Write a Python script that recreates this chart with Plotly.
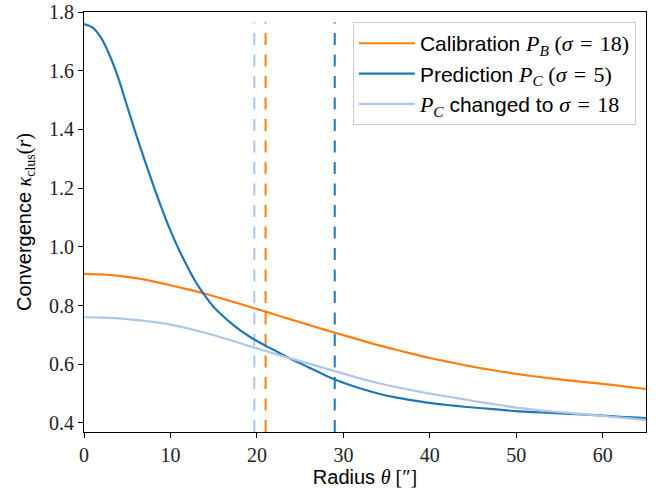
import plotly.graph_objects as go

# ---- data ----
theta_pred = list(range(0, 31)) + [32, 34, 36, 38, 40, 42, 44, 46, 48, 50, 52, 54, 56, 58, 60, 62, 64, 65]
kappa_pred = [1.759, 1.747, 1.711, 1.650, 1.572, 1.478, 1.385, 1.296, 1.211, 1.130,
              1.055, 0.989, 0.930, 0.876, 0.833, 0.795, 0.766, 0.740, 0.717, 0.697,
              0.679, 0.663, 0.648, 0.632, 0.617, 0.603, 0.589, 0.575, 0.561, 0.548,
              0.537, 0.517, 0.500, 0.487, 0.477, 0.468, 0.461, 0.455, 0.450, 0.445,
              0.440, 0.437, 0.434, 0.431, 0.428, 0.425, 0.421, 0.418, 0.416]

theta_cal = list(range(0, 65, 2)) + [65]
kappa_cal = [0.908, 0.906, 0.901, 0.893, 0.882, 0.869, 0.855, 0.840, 0.823, 0.806,
             0.788, 0.770, 0.752, 0.734, 0.716, 0.699, 0.682, 0.665, 0.650, 0.635,
             0.621, 0.609, 0.597, 0.586, 0.576, 0.567, 0.559, 0.552, 0.545, 0.539,
             0.533, 0.526, 0.519, 0.516]

theta_chg = list(range(0, 65, 2)) + [65]
kappa_chg = [0.760, 0.759, 0.756, 0.751, 0.744, 0.735, 0.722, 0.707, 0.690, 0.672,
             0.654, 0.636, 0.619, 0.602, 0.585, 0.568, 0.551, 0.536, 0.523, 0.511,
             0.500, 0.490, 0.480, 0.470, 0.461, 0.452, 0.445, 0.439, 0.434, 0.429,
             0.424, 0.418, 0.413, 0.410]

# vertical dashed marker radii
vline_theta = [19.7, 21.0, 29.0]
vline_colors = ["#aec7e8", "#ff7f0e", "#1f77b4"]
vline_top = 1.765

x_ticks = [0, 10, 20, 30, 40, 50, 60]
y_ticks = [0.4, 0.6, 0.8, 1.0, 1.2, 1.4, 1.6, 1.8]
x_range = [0, 65]
y_range = [0.369, 1.8]

SERIF = "'Liberation Serif', 'DejaVu Serif', serif"
SANS = "'Liberation Sans', Arial, sans-serif"
SP = "\u2004"  # wider math spacing around '='


def m(s, size=22):
    return f"<span style=\"font-family:{SERIF};font-size:{size}px\">{s}</span>"


names = [
    "Calibration " + m(f"<i>P</i><sub><i>B</i></sub> (<i>σ</i>{SP}={SP}18)"),
    "Prediction " + m(f"<i>P</i><sub><i>C</i></sub> (<i>σ</i>{SP}={SP}5)"),
    m("<i>P</i><sub><i>C</i></sub>") + " changed to " + m(f"<i>σ</i>{SP}={SP}18"),
]

fig = go.Figure()
series = [(theta_cal, kappa_cal, "#ff7f0e"),
          (theta_pred, kappa_pred, "#1f77b4"),
          (theta_chg, kappa_chg, "#aec7e8")]
for i, (xs, ys, c) in enumerate(series):
    fig.add_trace(go.Scatter(x=xs, y=ys, mode="lines", name=names[i],
                             line=dict(color=c, width=2.2, shape="spline", smoothing=1.0),
                             legendgroup=f"g{i}"))

for xv, c in zip(vline_theta, vline_colors):
    fig.add_shape(type="line", xref="x", yref="y", x0=xv, x1=xv,
                  y0=y_range[0], y1=vline_top,
                  line=dict(color=c, width=2, dash="12px,9.5px"), layer="below")

fig.update_layout(
    width=665, height=493,
    margin=dict(l=84, r=19, t=12, b=61),
    plot_bgcolor="white", paper_bgcolor="white",
    showlegend=True,
    legend=dict(x=0.982, y=0.976, xanchor="right", yanchor="top",
                bgcolor="rgba(255,255,255,0.8)", bordercolor="#cccccc", borderwidth=1,
                font=dict(family=SANS, size=21, color="black"),
                tracegroupgap=0, itemwidth=56),
    xaxis=dict(range=x_range, tickvals=x_ticks, ticktext=[str(v) for v in x_ticks],
               automargin=False,
               showgrid=False, zeroline=False, showline=True, linecolor="black", linewidth=1,
               mirror=True, ticks="outside", ticklen=5, tickwidth=1, tickcolor="black",
               tickfont=dict(family=SERIF, size=20, color="#222"),
               title=dict(text="Radius " + m("<i>θ</i> [″]", 20),
                          font=dict(family=SANS, size=20, color="black"), standoff=4)),
    yaxis=dict(range=y_range, tickvals=y_ticks, ticktext=[f"{v:.1f}" for v in y_ticks],
               automargin=False,
               showgrid=False, zeroline=False, showline=True, linecolor="black", linewidth=1,
               mirror=True, ticks="outside", ticklen=5, tickwidth=1, tickcolor="black",
               tickfont=dict(family=SERIF, size=20, color="#222"),
               title=dict(text="Convergence " + m("<i>κ</i><sub>clus</sub>(<i>r</i>)", 20),
                          font=dict(family=SANS, size=20, color="black"), standoff=12)),
)

fig.write_html("out.html", config={"displayModeBar": False},
               post_script="document.body.style.margin='0px';document.body.style.overflow='hidden';")
